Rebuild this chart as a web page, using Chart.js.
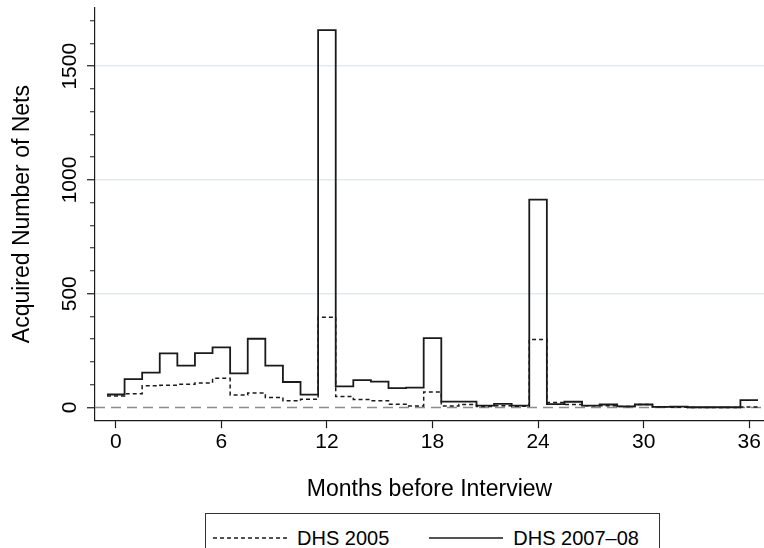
<!DOCTYPE html>
<html lang="en">
<head>
<meta charset="UTF-8">
<title>Acquired Number of Nets</title>
<script src="https://cdn.jsdelivr.net/npm/chart.js"></script>
<style>
  body { margin: 0; background: #fff; overflow: hidden; }
  .wrap { position: relative; width: 764px; height: 548px; overflow: hidden; }
  #legend {
    position: absolute; left: 205px; top: 513px; width: 455px; height: 60px;
    box-sizing: border-box; border: 1px solid #333; background: #fff;
    font-family: "Liberation Sans", Arial, sans-serif; font-size: 20px; color: #000;
  }
  #legend .row { display: flex; align-items: center; height: 48px; padding-left: 7px; white-space: nowrap; }
  #legend .item { display: flex; align-items: center; margin-right: 40px; flex-shrink: 0; }
  #legend svg { margin-right: 10px; flex-shrink: 0; }
</style>
</head>
<body>
<div class="wrap">
  <canvas id="netsChart" width="764" height="548"></canvas>
  <div id="legend"><div class="row"></div></div>
</div>
<script>
// months before interview, one bin per month
const months = [0, 1, 2, 3, 4, 5, 6, 7, 8, 9, 10, 11, 12, 13, 14, 15, 16, 17, 18,
                19, 20, 21, 22, 23, 24, 25, 26, 27, 28, 29, 30, 31, 32, 33, 34, 35, 36];
const dhs2005 = [50, 60, 95, 98, 102, 108, 128, 55, 64, 44, 29, 36, 397, 48, 35, 30, 14, 6, 68,
                 6, 13, 4, 7, 5, 299, 22, 13, 7, 7, 4, 13, 3, 1, 0, 0, 0, 2];
const dhs2007 = [57, 125, 153, 238, 184, 239, 264, 150, 302, 184, 112, 56, 1659, 93, 120, 114, 85, 87, 305,
                 26, 26, 8, 16, 8, 914, 15, 25, 8, 13, 5, 13, 3, 4, 1, 1, 1, 32];
const seriesNames = ["DHS 2005", "DHS 2007–08"];
const xTicks = [0, 6, 12, 18, 24, 30, 36];
const yTicks = [0, 500, 1000, 1500];

const xMin = -1.18, xMax = 36.84;
const yMin = -56, yMax = 1756;
const ink = "#1a1a1a";
const fontFamily = '"Liberation Sans", Arial, sans-serif';

// outline of the histogram: each bin drawn from its left edge to its right edge
function steps(values) {
  const pts = months.map((m, i) => ({ x: m - 0.5, y: values[i] }));
  pts.push({ x: months[months.length - 1] + 0.5, y: values[values.length - 1] });
  return pts;
}

// Stata prints the y tick labels turned a quarter; Chart.js won't rotate them on a vertical axis
const verticalTickLabels = {
  id: "verticalTickLabels",
  afterDraw(chart) {
    const s = chart.scales.y;
    const ctx = chart.ctx;
    ctx.save();
    ctx.font = "21px " + fontFamily;
    ctx.fillStyle = "#000";
    ctx.textAlign = "center";
    ctx.textBaseline = "middle";
    s.ticks.forEach(t => {
      if (!yTicks.includes(t.value)) return;
      ctx.save();
      ctx.translate(s.right - 25, s.getPixelForValue(t.value));
      ctx.rotate(-Math.PI / 2);
      ctx.fillText(String(t.value), 0, 0);
      ctx.restore();
    });
    ctx.restore();
  }
};

Chart.defaults.font.family = fontFamily;
Chart.defaults.color = "#000";

const datasets = [
  { label: seriesNames[1], data: steps(dhs2007), borderColor: ink, borderWidth: 1.8 },
  { label: seriesNames[0], data: steps(dhs2005), borderColor: ink, borderWidth: 1.5, borderDash: [4, 3] },
  { label: "zero", data: [{ x: xMin, y: 0 }, { x: xMax, y: 0 }], borderColor: "#8c8c8c",
    borderWidth: 1.6, borderDash: [10, 6], stepped: false }
];
datasets.forEach(d => {
  d.pointRadius = 0;
  d.fill = false;
  if (d.stepped === undefined) d.stepped = "before";
});

new Chart(document.getElementById("netsChart"), {
  type: "line",
  data: { datasets: datasets },
  plugins: [verticalTickLabels],
  options: {
    responsive: false,
    animation: false,
    devicePixelRatio: 1,
    layout: { padding: { left: 0, right: 0, top: 8, bottom: 45 } },
    plugins: { legend: { display: false }, tooltip: { enabled: false } },
    scales: {
      x: {
        type: "linear",
        min: xMin,
        max: xMax,
        ticks: {
          stepSize: 6,
          includeBounds: false,
          padding: 1,
          font: { size: 21 },
          callback: v => xTicks.includes(v) ? String(v) : ""
        },
        grid: { drawOnChartArea: false, tickLength: 8, tickColor: ink, tickWidth: 1.2 },
        border: { color: ink, width: 1.2 },
        title: { display: true, text: "Months before Interview", font: { size: 23 }, padding: { top: 20, bottom: 0 } }
      },
      y: {
        min: yMin,
        max: yMax,
        afterFit: scale => { scale.width = 95; },
        ticks: {
          stepSize: 100,
          includeBounds: false,
          autoSkip: false,
          padding: -8,
          color: "rgba(0,0,0,0)",
          font: { size: 21 },
          callback: v => yTicks.includes(v) ? String(v) : ""
        },
        grid: {
          color: c => (c.tick && c.tick.value > 0 && yTicks.includes(c.tick.value)) ? "#e3ebee" : "rgba(0,0,0,0)",
          lineWidth: 1.5,
          tickLength: 8,
          tickColor: ink,
          tickWidth: 1.2,
          tickBorderDash: c => (c.tick && yTicks.includes(c.tick.value)) ? [] : [0, 3, 10, 10]
        },
        border: { color: ink, width: 1.2 },
        title: { display: true, text: "Acquired Number of Nets", font: { size: 23 }, padding: { top: 9, bottom: 0 } }
      }
    }
  }
});

// legend box built from the series names and styles
const row = document.querySelector("#legend .row");
[datasets[1], datasets[0]].forEach(d => {
  const item = document.createElement("div");
  item.className = "item";
  const dash = d.borderDash ? d.borderDash.join(" ") : "none";
  item.innerHTML = '<svg width="74" height="6"><line x1="0" y1="3" x2="74" y2="3" stroke="' + ink +
    '" stroke-width="1.5" stroke-dasharray="' + dash + '"/></svg><span>' + d.label + '</span>';
  row.appendChild(item);
});
</script>
</body>
</html>
